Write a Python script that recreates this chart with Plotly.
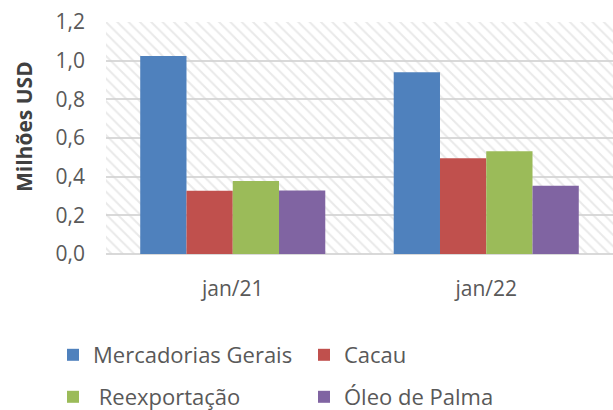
import plotly.graph_objects as go

categories = ["jan/21", "jan/22"]
series_names = ["Mercadorias Gerais", "Cacau", " Reexportação", "Óleo de Palma"]
mercadorias = [1.024, 0.940]
cacau = [0.327, 0.495]
reexportacao = [0.377, 0.531]
oleo = [0.329, 0.353]
y_ticks = [0.0, 0.2, 0.4, 0.6, 0.8, 1.0, 1.2]
y_title = "Milhões USD"

values = [mercadorias, cacau, reexportacao, oleo]
colors = ["#4F81BD", "#C0504D", "#9BBB59", "#8064A2"]
legends = ["legend", "legend2", "legend3", "legend4"]

FONT = "Open Sans, Noto Sans, sans-serif"
TXT = "#595959"
fig = go.Figure()

# hatched plot-area background
fig.add_trace(go.Bar(
    x=[0.5], y=[max(y_ticks)], width=[1], xaxis="x", yaxis="y",
    marker=dict(color="rgba(0,0,0,0)", line=dict(width=0),
                pattern=dict(shape="\\", size=8, solidity=0.25,
                             fgcolor="#d4d4d4", bgcolor="rgba(0,0,0,0)", fillmode="overlay")),
    showlegend=False, hoverinfo="skip"))

for name, vals, col, lg in zip(series_names, values, colors, legends):
    fig.add_trace(go.Bar(
        x=categories, y=vals, name=name, xaxis="x2", yaxis="y",
        marker=dict(color=col, line=dict(width=0)), legend=lg))

def leg(x, y):
    return dict(orientation="h", xref="container", yref="container",
                x=x, y=y, xanchor="left", yanchor="middle",
                font=dict(family=FONT, size=22, color=TXT), bgcolor="rgba(0,0,0,0)")

fig.update_layout(
    width=613, height=410,
    margin=dict(l=106, r=0, t=22, b=156),
    paper_bgcolor="white", plot_bgcolor="white",
    separators=",.",
    barmode="group", bargap=0.27, bargroupgap=0,
    font=dict(family=FONT, size=21, color=TXT),
    xaxis=dict(range=[0, 1], visible=False, fixedrange=True),
    xaxis2=dict(overlaying="x", anchor="y", side="bottom", type="category",
                showgrid=False, showline=False, ticks="", ticklabelstandoff=20,
                automargin=False, tickfont=dict(size=21, color=TXT)),
    yaxis=dict(range=[0, 1.2], tickvals=y_ticks, tickformat=".1f",
               showgrid=True, gridcolor="#d9d9d9", gridwidth=1.5,
               zeroline=True, zerolinecolor="#d9d9d9", zerolinewidth=2,
               showline=False, ticks="", ticklabelstandoff=20, automargin=False,
               tickfont=dict(size=21, color=TXT)),
    legend=leg(53 / 613, 1 - 355 / 410),
    legend2=leg(304 / 613, 1 - 355 / 410),
    legend3=leg(53 / 613, 1 - 397 / 410),
    legend4=leg(304 / 613, 1 - 397 / 410),
    annotations=[dict(text="<b>" + y_title + "</b>", textangle=-90,
                      xref="paper", yref="paper",
                      x=(24 - 106) / 507, y=(254 - 127) / 232,
                      xanchor="center", yanchor="middle", showarrow=False,
                      font=dict(family=FONT, size=21, color="#404040"))],
)

fig.write_html("out.html", config={"displayModeBar": False},
               post_script="document.body.style.margin='0';document.body.style.overflow='hidden';")
